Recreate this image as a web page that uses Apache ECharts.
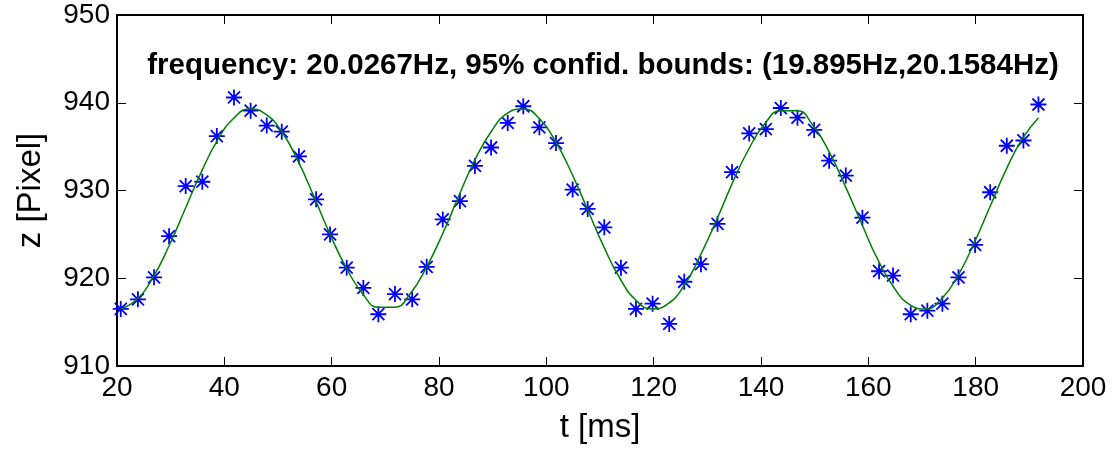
<!DOCTYPE html>
<html>
<head>
<meta charset="utf-8">
<script src="https://cdn.jsdelivr.net/npm/echarts@6/dist/echarts.min.js"></script>
<style>
html,body{margin:0;padding:0;background:#fff;}
#chart{width:1116px;height:450px;}
</style>
</head>
<body>
<div id="chart"></div>
<script>
// measured samples (t in ms, z in pixels)
var tMarks = [20.7, 23.9, 26.9, 29.7, 32.8, 35.9, 38.6, 41.8, 44.9, 47.9,
  50.7, 53.9, 57.1, 59.7, 62.8, 65.9, 68.7, 71.8, 75.0, 77.7,
  80.7, 83.9, 86.7, 89.7, 92.8, 95.7, 98.7, 101.8, 104.9, 107.7,
  110.8, 113.9, 116.7, 119.8, 122.9, 125.7, 128.8, 131.9, 134.6, 137.8,
  140.9, 143.7, 146.8, 149.9, 152.7, 155.8, 158.9, 162.0, 164.6, 167.9,
  171.0, 173.8, 176.8, 179.9, 182.7, 185.8, 188.9, 191.7];
var zMarks = [916.5, 917.6, 920.1, 924.8, 930.5, 931.0, 936.2, 940.6, 939.1, 937.4,
  936.7, 933.9, 929.0, 925.0, 921.2, 918.9, 915.9, 918.2, 917.6, 921.3,
  926.7, 928.8, 932.8, 934.9, 937.7, 939.6, 937.2, 935.4, 930.1, 927.9,
  925.8, 921.2, 916.5, 917.1, 914.8, 919.6, 921.6, 926.2, 932.1, 936.5,
  937.0, 939.4, 938.3, 936.9, 933.4, 931.7, 926.9, 920.8, 920.3, 915.9,
  916.3, 917.1, 920.1, 923.8, 929.8, 935.1, 935.7, 939.8];
// fitted curve
var tFit = [20.7, 23.7, 26.7, 29.7, 32.7, 35.7, 38.7, 41.7, 44.7, 47.7,
  50.7, 53.7, 56.7, 59.7, 62.7, 65.7, 68.7, 71.7, 74.7, 77.7,
  80.7, 83.7, 86.7, 89.7, 92.7, 95.7, 98.7, 101.7, 104.7, 107.7,
  110.7, 113.7, 116.7, 119.7, 122.7, 125.7, 128.7, 131.7, 134.7, 137.7,
  140.7, 143.7, 146.7, 149.7, 152.7, 155.7, 158.7, 161.7, 164.7, 167.7,
  170.7, 173.7, 176.7, 179.7, 182.7, 185.7, 188.7, 191.7];
var zFit = [916.5, 917.6, 920.1, 923.7, 927.9, 932.1, 935.7, 938.2, 939.3, 938.7,
  936.7, 933.4, 929.3, 925.0, 921.2, 918.3, 916.7, 916.7, 918.3, 921.3,
  925.1, 929.4, 933.5, 936.7, 938.8, 939.3, 938.2, 935.6, 932.0, 927.8,
  923.6, 920.0, 917.5, 916.5, 917.1, 919.2, 922.6, 926.6, 930.9, 934.7,
  937.6, 939.1, 939.1, 937.4, 934.4, 930.5, 926.3, 922.2, 919.0, 917.0,
  916.5, 917.7, 920.3, 924.0, 928.2, 932.4, 935.9, 938.3];
var titleText = 'frequency: 20.0267Hz, 95% confid. bounds: (19.895Hz,20.1584Hz)';
var xName = 't [ms]';
var yName = 'z [Pixel]';
var xMin = 20, xMax = 200, xStep = 20;
var yMin = 910, yMax = 950, yStep = 10;

var FONT = '"Liberation Sans", Arial, Helvetica, sans-serif';
var chart = echarts.init(document.getElementById('chart'), null, {renderer: 'canvas'});

var markPts = tMarks.map(function (t, i) { return [t, zMarks[i]]; });
var fitPts = tFit.map(function (t, i) { return [t, zFit[i]]; });

var axisCommon = {
  axisLine: {show: true, onZero: false, lineStyle: {color: '#000', width: 2}},
  axisTick: {show: true, inside: true, length: 9, lineStyle: {color: '#000', width: 1}},
  splitLine: {show: false}
};

var option = {
  backgroundColor: '#fff',
  animation: false,
  title: {
    text: titleText,
    left: 598, top: 61,
    textAlign: 'center', textVerticalAlign: 'middle',
    textStyle: {fontFamily: FONT, fontWeight: 'bold', fontSize: 29.5, color: '#000'}
  },
  grid: {left: 117, right: 33, top: 15, bottom: 84, containLabel: false, outerBoundsMode: 'none'},
  xAxis: [
    Object.assign({
      type: 'value', min: xMin, max: xMax, interval: xStep, position: 'bottom',
      name: xName, nameLocation: 'middle', nameGap: 45,
      nameTextStyle: {fontFamily: FONT, fontSize: 33, color: '#000'},
      axisLabel: {fontFamily: FONT, fontSize: 28, color: '#000', margin: 8}
    }, axisCommon),
    Object.assign({
      type: 'value', min: xMin, max: xMax, interval: xStep, position: 'top',
      axisLabel: {show: false}
    }, axisCommon)
  ],
  yAxis: [
    Object.assign({
      type: 'value', min: yMin, max: yMax, interval: yStep, position: 'left',
      name: yName, nameLocation: 'middle', nameGap: 70, nameRotate: 90,
      nameTextStyle: {fontFamily: FONT, fontSize: 33, color: '#000'},
      axisLabel: {fontFamily: FONT, fontSize: 28, color: '#000', margin: 7}
    }, axisCommon),
    Object.assign({
      type: 'value', min: yMin, max: yMax, interval: yStep, position: 'right',
      axisLabel: {show: false}
    }, axisCommon)
  ],
  series: [
    {
      type: 'scatter', xAxisIndex: 0, yAxisIndex: 0,
      data: markPts,
      symbol: 'path://M10,0L10,20M0,10L20,10M2.5,2.5L17.5,17.5M2.5,17.5L17.5,2.5',
      symbolSize: 16,
      itemStyle: {color: 'rgba(0,0,0,0)', borderColor: '#0000ff', borderWidth: 1.8, opacity: 1},
      z: 2
    },
    {
      type: 'line', xAxisIndex: 0, yAxisIndex: 0,
      data: fitPts,
      smooth: 0.5,
      showSymbol: false, symbol: 'none',
      lineStyle: {color: '#008000', width: 1.5},
      z: 3
    }
  ]
};
chart.setOption(option);
</script>
</body>
</html>
